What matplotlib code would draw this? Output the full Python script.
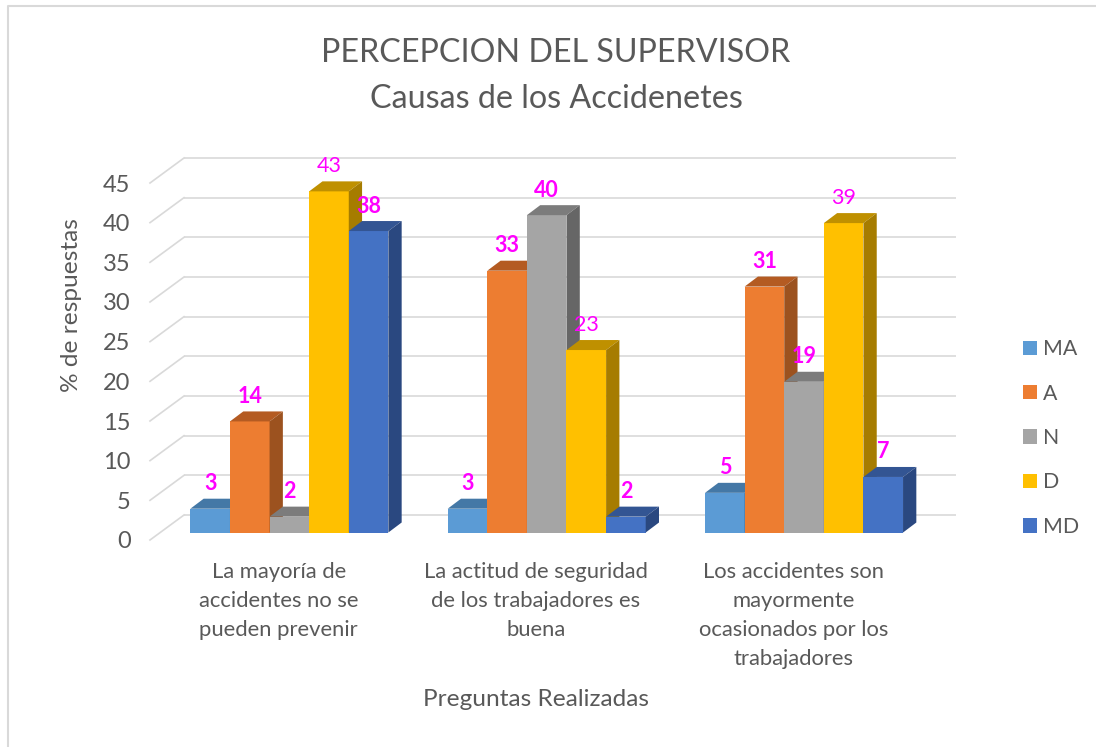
import matplotlib
matplotlib.use("Agg")
import matplotlib.pyplot as plt
from matplotlib.patches import Polygon, Patch
from matplotlib.lines import Line2D

plt.rcParams['font.family'] = ['Lato', 'DejaVu Sans']

# ---- data ----
categories = ["La mayoría de\naccidentes no se\npueden prevenir",
              "La actitud de seguridad\nde los trabajadores es\nbuena",
              "Los accidentes son\nmayormente\nocasionados por los\ntrabajadores"]
series_names = ["MA", "A", "N", "D", "MD"]
MA = [3, 3, 5]
A = [14, 33, 31]
N = [2, 40, 19]
D = [43, 23, 39]
MD = [38, 2, 7]
series_values = [MA, A, N, D, MD]
y_ticks = [0, 5, 10, 15, 20, 25, 30, 35, 40, 45]
bold_labels = [[True, True, True], [True, True, True], [True, True, True],
               [False, False, False], [True, True, True]]

# ---- style ----
front = ["#5B9BD5", "#ED7D31", "#A5A5A5", "#FFC000", "#4472C4"]
top = ["#4478A6", "#B45B22", "#7C7C7C", "#BF9000", "#335593"]
side = ["#38638C", "#9C521F", "#666666", "#A67C00", "#2A4880"]
txt = "#595959"
pink = "#FF00FF"
grid = "#D9D9D9"

W, H = 1096, 747
fig = plt.figure(figsize=(W / 100, H / 100), dpi=100, facecolor="white")
L, R, B, T = 150, 922, 540, 183
ax = fig.add_axes([L / W, 1 - B / H, (R - L) / W, (B - T) / H])
ax.set_xlim(-0.5, 2.5)
ax.set_ylim(0, 45)
ax.patch.set_visible(False)
for s in ax.spines.values():
    s.set_visible(False)

px = 3 / (R - L)          # data units per pixel, x
py = 45 / (B - T)         # data units per pixel, y
bw = 39.6 * px
shift_x, shift_y = 10.7 * px, 7.5 * py
dx, dy = 13.3 * px, 10 * py
back_x, back_y = 34 * px, 25 * py

# back wall gridlines and side stubs
for v in y_ticks:
    ax.plot([-0.5 + back_x, 2.5 + back_x], [v + back_y, v + back_y], color=grid, lw=1.2,
            clip_on=False, zorder=1, solid_capstyle="butt")
    ax.plot([-0.5, -0.5 + back_x], [v, v + back_y], color=grid, lw=1.2, clip_on=False, zorder=1)

# bars, painted left to right
z = 3
for c in range(len(categories)):
    for i, vals in enumerate(series_values):
        v = vals[c]
        x0 = c + shift_x + (i - 2.5) * bw
        x1 = x0 + bw
        y0 = shift_y
        y1 = v + shift_y
        ax.bar(x0, v, width=bw, bottom=y0, align="edge", color=front[i], lw=0, clip_on=False, zorder=z)
        ax.add_patch(Polygon([(x0, y1), (x1, y1), (x1 + dx, y1 + dy), (x0 + dx, y1 + dy)],
                             closed=True, fc=top[i], ec="none", clip_on=False, zorder=z))
        ax.add_patch(Polygon([(x1, y0), (x1 + dx, y0 + dy), (x1 + dx, y1 + dy), (x1, y1)],
                             closed=True, fc=side[i], ec="none", clip_on=False, zorder=z))
        z += 1
        ax.text((x0 + x1) / 2, y1 + 25 * py, str(v), color=pink, fontsize=15.5,
                fontweight="bold" if bold_labels[i][c] else "normal",
                ha="center", va="center", zorder=100, clip_on=False)

# axes text
ax.set_yticks(y_ticks)
ax.set_yticklabels([str(v) for v in y_ticks])
ax.set_xticks(range(len(categories)))
ax.set_xticklabels(categories, linespacing=1.58)
ax.tick_params(axis="y", length=0, pad=14, labelsize=17, labelcolor=txt)
ax.tick_params(axis="x", length=0, pad=15.5, labelsize=15.8, labelcolor=txt)

ax.set_ylabel("% de respuestas", fontsize=17.6, color=txt, va="center")
ax.yaxis.set_label_coords((71 - L) / (R - L), (B - 305) / (B - T))
ax.set_xlabel("Preguntas Realizadas", fontsize=17.6, color=txt, va="center")
ax.xaxis.set_label_coords((536 - L) / (R - L), (B - 700) / (B - T))

ax.set_title("PERCEPCION DEL SUPERVISOR\nCausas de los Accidenetes", fontsize=23.2, color=txt,
             x=(556 - L) / (R - L), y=(B - 122) / (B - T), linespacing=1.66, va="bottom")

# legend
handles = [Patch(fc=f, ec="none", label=n) for f, n in zip(front, series_names)]
leg = ax.legend(handles=handles, loc="center left", bbox_to_anchor=(1023 / W, 1 - 438 / H),
                bbox_transform=fig.transFigure, frameon=False, fontsize=15.3,
                handlelength=0.66, handleheight=0.66, handletextpad=0.29,
                labelspacing=1.15, borderpad=0, borderaxespad=0)
leg.set_zorder(200)
for t in leg.get_texts():
    t.set_color(txt)

# chart frame (left and top edges)
fig.add_artist(Line2D([7.5 / W, 7.5 / W, 1], [0, 1 - 6 / H, 1 - 6 / H], color=grid, lw=1.5))

fig.savefig("out.png", dpi=100, facecolor="white")
